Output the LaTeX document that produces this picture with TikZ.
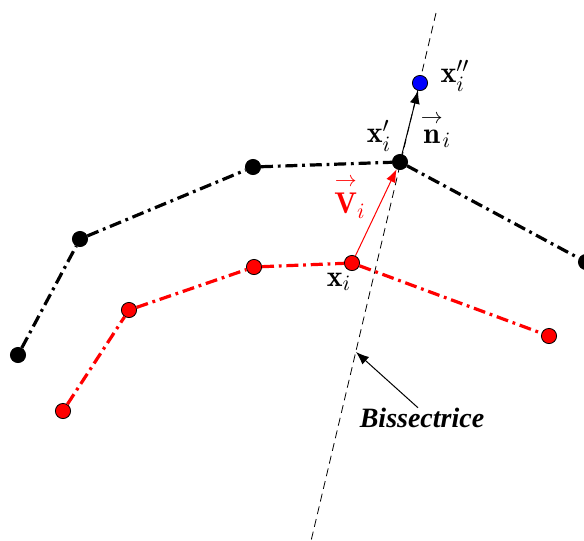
\documentclass[tikz,border=0pt]{standalone}
\usepackage{amsmath,amssymb}
\usepackage{fontspec}
\usepackage{tikz}
\usetikzlibrary{arrows.meta,positioning,calc}
\newfontfamily\bisfont{Liberation Serif}

\begin{document}
\begin{tikzpicture}[x=0.5pt,y=-0.5pt,
	pt/.style={circle,draw=black,line width=0.4pt,fill=#1,minimum size=7.6pt,inner sep=0pt},
	pt/.default=black,
	contour/.style={line width=1.6pt,dash pattern=on 6pt off 2.4pt on 1.4pt off 2.4pt},
	vecarrow/.style={line width=0.5pt,-{Latex[length=6.5pt,width=5pt]}},
	lbl/.style={font=\fontsize{15}{17}\selectfont,inner sep=0pt}
	]
	\useasboundingbox (0,0) rectangle (584,541);
	% bissectrice
	\coordinate (b1) at (436,13);
	\coordinate (b2) at (311,541);
	\draw[line width=0.4pt,dash pattern=on 4pt off 2.5pt] (b1) -- (b2);
	% contour initial (rouge)
	\node[pt=red] (r1) at (63,411) {};
	\node[pt=red] (r2) at (129,310) {};
	\node[pt=red] (r3) at (254,267) {};
	\node[pt=red] (r4) at (352,263) {};
	\node[pt=red] (r5) at (549,336) {};
	\draw[contour,red] (r1) -- (r2) -- (r3) -- (r4) -- (r5);
	% contour deplace (noir)
	\node[pt] (k1) at (18,355) {};
	\node[pt] (k2) at (80,239) {};
	\node[pt] (k3) at (253,167) {};
	\node[pt] (k4) at (400,162) {};
	\node[pt] (k5) at (586,262) {};
	\draw[contour] (k1) -- (k2) -- (k3) -- (k4) -- (k5);
	% point final
	\node[pt=blue] (p) at (420,83) {};
	% vecteurs
	\draw[vecarrow,red] (r4) -- (k4);
	\draw[vecarrow] (k4) -- (p);
	% etiquettes
	\node[lbl] (lxs) at (455,76) {$\mathbf{x}''_i$};
	\node[lbl] (ln) at (436,130) {$\overset{\rightarrow}{\mathbf{n}}_i$};
	\node[lbl] (lxp) at (379,136) {$\mathbf{x}'_i$};
	\node[lbl,text=red] (lv) at (350,197) {$\overset{\rightarrow}{\mathbf{V}}_i$};
	\node[lbl] (lx) at (339,282) {$\mathbf{x}_i$};
	\node[font=\bisfont\bfseries\itshape\fontsize{14}{16}\selectfont,inner sep=1pt] (bis) at (422,418) {Bissectrice};
	\coordinate (bt) at (356,352);
	\draw[vecarrow] ([xshift=-2pt,yshift=-1pt]bis.north) -- (bt);
\end{tikzpicture}
\end{document}
